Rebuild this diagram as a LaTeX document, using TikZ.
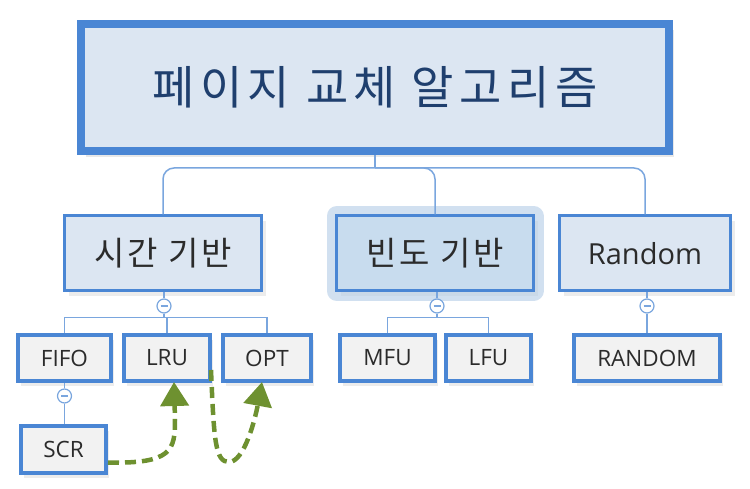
\documentclass[tikz,border=0pt]{standalone}
\usepackage{fontspec}
\setmainfont{Open Sans}
\newfontfamily\kor[LetterSpace=8]{Noto Sans CJK KR}
\newfontfamily\korwide[LetterSpace=12]{Noto Sans CJK KR}
\usepackage{tikz}
\usetikzlibrary{arrows.meta,shadows}
\definecolor{mapBorder}{HTML}{4A86D4}
\definecolor{mapLink}{HTML}{7AA6DE}
\definecolor{mapFill}{HTML}{DCE6F2}
\definecolor{mapSelect}{HTML}{C8DCEE}
\definecolor{mapHalo}{HTML}{B3CCE6}
\definecolor{mapLeaf}{HTML}{F2F2F2}
\definecolor{mapTitle}{HTML}{1F3F6E}
\definecolor{mapText}{HTML}{2B2B2B}
\definecolor{swapGreen}{HTML}{6E9130}

\begin{document}
\begin{tikzpicture}[
            x=1pt, y=-1pt,
            rootbox/.style={
                draw=mapBorder,
                fill=mapFill,
                line width=8pt,
                minimum width=588pt,
                minimum height=127pt,
                inner sep=0pt,
                text=mapTitle,
                font=\korwide\fontsize{46}{50}\selectfont,
                drop shadow={shadow xshift=5pt, shadow yshift=-6pt, opacity=0.18}
            },
            groupbox/.style={
                draw=mapBorder,
                fill=mapFill,
                line width=3pt,
                minimum width=197pt,
                minimum height=75pt,
                inner sep=0pt,
                text=mapText,
                font=\kor\fontsize{33}{36}\selectfont,
                drop shadow={shadow xshift=4pt, shadow yshift=-5pt, opacity=0.15}
            },
            selectbox/.style={
                groupbox,
                fill=mapSelect,
                preaction={draw=mapHalo, line width=20pt, line join=round, opacity=0.6}
            },
            leafbox/.style={
                draw=mapBorder,
                fill=mapLeaf,
                line width=4pt,
                minimum height=46pt,
                inner sep=0pt,
                text=mapText,
                font=\fontsize{22.5}{26}\selectfont,
                drop shadow={shadow xshift=3pt, shadow yshift=-5pt, opacity=0.15}
            },
            collapse/.style={
                circle,
                draw=mapLink,
                fill=white,
                line width=1.2pt,
                minimum size=14pt,
                inner sep=0pt,
                path picture={
                    \draw[mapLink, line width=1.2pt]
                        ([xshift=3.5pt]path picture bounding box.west) --
                        ([xshift=-3.5pt]path picture bounding box.east);
                }
            },
            linkline/.style={
                draw=mapLink,
                line width=1.5pt
            },
            swaparrow/.style={
                -{Triangle[width=28pt,length=24pt]},
                draw=swapGreen,
                line width=4.5pt,
                dash pattern=on 11pt off 6pt
            }
        ]

        \useasboundingbox (0,0) rectangle (750,489);

        % --- Root ---
        \node[rootbox] (root) at (375,87.5)
            {페이지 교체 알고리즘};

        % --- Groups ---
        \node[groupbox] (time) at (163,253.5)
            {시간 기반};

        \node[selectbox] (freq) at (435,253.5)
            {빈도 기반};

        \node[groupbox, minimum width=171pt, font=\fontsize{29}{32}\selectfont]
            (rand) at (645,253.5)
            {Random};

        \coordinate (bus) at (375,168);

        \draw[linkline] (root.south) -- (bus);
        \draw[linkline, rounded corners=11pt] (bus) -| (time.north);
        \draw[linkline, rounded corners=11pt] (bus) -| (freq.north);
        \draw[linkline, rounded corners=11pt] (bus) -| (rand.north);

        % --- Leaves ---
        \node[leafbox, minimum width=93pt] (fifo) at (64.5,358) {FIFO};
        \node[leafbox, minimum width=86pt] (lru) at (167,358) {LRU};
        \node[leafbox, minimum width=88pt] (opt) at (267,358) {OPT};

        \node[leafbox, minimum width=95pt] (mfu) at (387.5,358) {MFU};
        \node[leafbox, minimum width=85pt] (lfu) at (488.5,358) {LFU};

        \node[leafbox, minimum width=146pt] (random) at (647,358) {RANDOM};

        \node[leafbox, minimum width=85pt, minimum height=47pt]
            (scr) at (63.5,449.5) {SCR};

        % --- Collapse buttons and links ---
        \node[collapse] (ctime) at (164,306) {};
        \node[collapse] (cfreq) at (437,306) {};
        \node[collapse] (crand) at (647,306) {};
        \node[collapse] (cfifo) at (64.5,396) {};

        \draw[linkline] (time.south -| ctime) -- (ctime.north);
        \draw[linkline] (freq.south -| cfreq) -- (cfreq.north);
        \draw[linkline] (rand.south -| crand) -- (crand.north);
        \draw[linkline] (fifo.south -| cfifo) -- (cfifo.north);

        \draw[linkline] (ctime.south) -- ++(0,4) -| (fifo.north);
        \draw[linkline] (ctime.south) -- ++(0,4) -| (lru.north);
        \draw[linkline] (ctime.south) -- ++(0,4) -| (opt.north);

        \draw[linkline] (cfreq.south) -- ++(0,4) -| (mfu.north);
        \draw[linkline] (cfreq.south) -- ++(0,4) -| (lfu.north);

        \draw[linkline] (crand.south) -- (random.north -| crand);
        \draw[linkline] (cfifo.south) -- (scr.north -| cfifo);

        % --- Swap arrows ---
        \draw[swaparrow] ([yshift=-13pt]scr.east)
            .. controls (172,464) and (175,450) .. (175,420)
            -- ([xshift=7pt, yshift=1pt]lru.south);

        \draw[swaparrow] ([xshift=-1pt, yshift=-12pt]lru.east)
            .. controls (214,440) and (215,462) .. (229,462)
            .. controls (244,462) and (255,420) .. ([xshift=-5pt, yshift=1pt]opt.south);

        \end{tikzpicture}
\end{document}
